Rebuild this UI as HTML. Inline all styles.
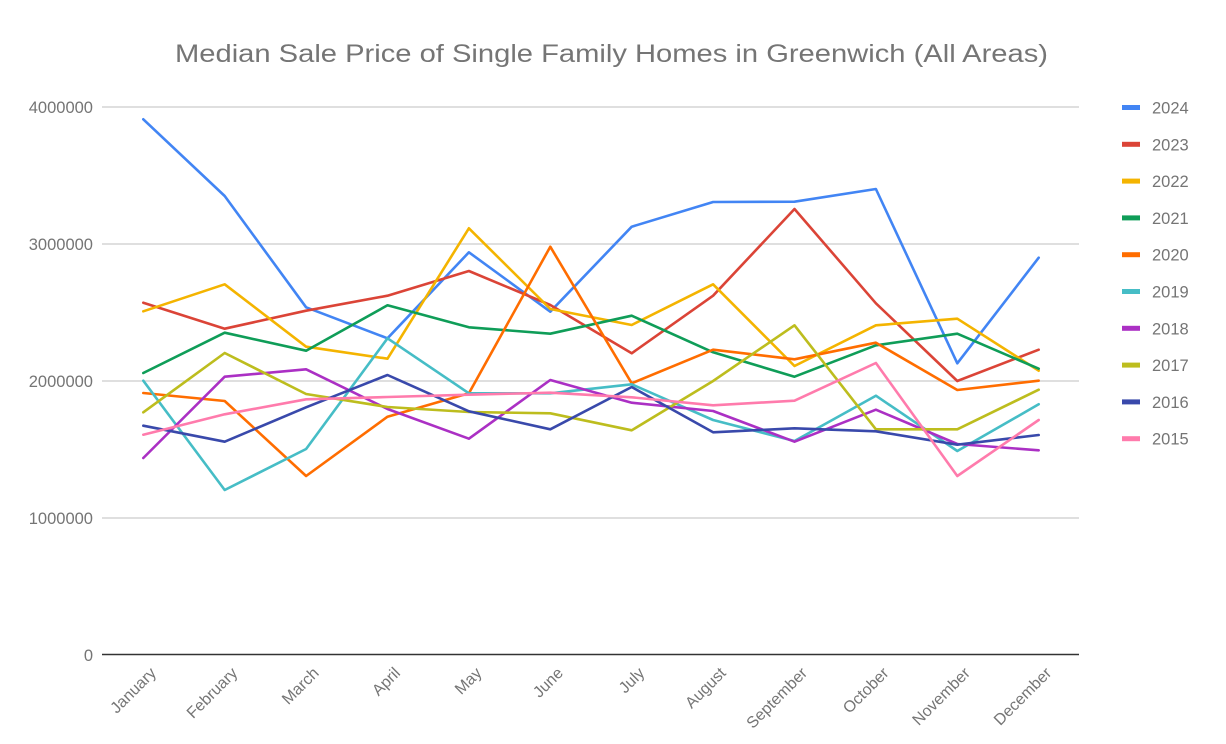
<!DOCTYPE html>
<html><head><meta charset="utf-8"><style>
html,body{margin:0;padding:0;background:#fff;}
svg{display:block;}
text{font-family:"Liberation Sans",Arial,sans-serif;fill:#757575;}
</style></head><body>
<svg width="1226" height="744" viewBox="0 0 1226 744" xmlns="http://www.w3.org/2000/svg">
<rect width="1226" height="744" fill="#fff"/>
<text x="611.5" y="62" font-size="25" text-anchor="middle" textLength="873" lengthAdjust="spacingAndGlyphs">Median Sale Price of Single Family Homes in Greenwich (All Areas)</text>
<g stroke="#cccccc" stroke-width="1.3">
<line x1="102" y1="107" x2="1079" y2="107"/>
<line x1="102" y1="244" x2="1079" y2="244"/>
<line x1="102" y1="381" x2="1079" y2="381"/>
<line x1="102" y1="518" x2="1079" y2="518"/>
</g>
<g font-size="16.5" text-anchor="end">
<text x="93" y="113">4000000</text>
<text x="93" y="250">3000000</text>
<text x="93" y="387">2000000</text>
<text x="93" y="524">1000000</text>
<text x="93" y="661">0</text>
</g>
<g fill="none" stroke-width="2.6" stroke-linejoin="round" stroke-linecap="round">
<polyline stroke="#4285F4" points="143.3,119.3 224.7,196 306.1,307.3 387.5,338.3 468.9,252.3 550.3,311.7 631.7,226.7 713.1,202 794.5,201.7 875.9,189 957.3,363.3 1038.7,257.7"/>
<polyline stroke="#DB4437" points="143.3,302.7 224.7,328.7 306.1,310.7 387.5,295.7 468.9,271 550.3,305 631.7,353.3 713.1,295.7 794.5,209 875.9,303.3 957.3,381 1038.7,349.7"/>
<polyline stroke="#F4B400" points="143.3,311.3 224.7,284.3 306.1,346.7 387.5,358.7 468.9,228.3 550.3,309 631.7,325 713.1,284.3 794.5,366 875.9,325.3 957.3,318.7 1038.7,370.7"/>
<polyline stroke="#0F9D58" points="143.3,373 224.7,332.7 306.1,350.7 387.5,305.3 468.9,327.3 550.3,333.7 631.7,315.7 713.1,352.3 794.5,376.7 875.9,345.3 957.3,333.7 1038.7,368.7"/>
<polyline stroke="#FF6D00" points="143.3,393 224.7,401 306.1,476 387.5,416.7 468.9,393.3 550.3,246.7 631.7,383.3 713.1,349.7 794.5,359.3 875.9,342.7 957.3,390 1038.7,380.7"/>
<polyline stroke="#46BDC6" points="143.3,380.7 224.7,490 306.1,449 387.5,338.3 468.9,393.3 550.3,393.3 631.7,384.3 713.1,420 794.5,441 875.9,395.7 957.3,451 1038.7,404.3"/>
<polyline stroke="#AB30C4" points="143.3,458 224.7,376.7 306.1,369.3 387.5,409 468.9,438.7 550.3,380 631.7,402.7 713.1,411 794.5,441.7 875.9,409.7 957.3,444 1038.7,450.3"/>
<polyline stroke="#BDBD1E" points="143.3,412.3 224.7,353 306.1,394 387.5,407 468.9,412 550.3,413.3 631.7,430.3 713.1,381 794.5,325.3 875.9,429.3 957.3,429.3 1038.7,389.7"/>
<polyline stroke="#3949AB" points="143.3,425.7 224.7,441.7 306.1,407.3 387.5,375 468.9,411.3 550.3,429.3 631.7,387 713.1,432.3 794.5,428.3 875.9,431.3 957.3,444.7 1038.7,435"/>
<polyline stroke="#FF7BAC" points="143.3,434.7 224.7,414.3 306.1,399.3 387.5,397 468.9,394.7 550.3,392.7 631.7,397.3 713.1,405.3 794.5,400.7 875.9,363 957.3,476 1038.7,420"/>
</g>
<line x1="102" y1="654.5" x2="1079" y2="654.5" stroke="#333" stroke-width="1.6"/>
<g font-size="16" text-anchor="end">
<text transform="translate(157,674) rotate(-45)">January</text>
<text transform="translate(238.4,674) rotate(-45)">February</text>
<text transform="translate(319.8,674) rotate(-45)">March</text>
<text transform="translate(401.2,674) rotate(-45)">April</text>
<text transform="translate(482.6,674) rotate(-45)">May</text>
<text transform="translate(564,674) rotate(-45)">June</text>
<text transform="translate(645.4,674) rotate(-45)">July</text>
<text transform="translate(726.8,674) rotate(-45)">August</text>
<text transform="translate(808.2,674) rotate(-45)">September</text>
<text transform="translate(889.6,674) rotate(-45)">October</text>
<text transform="translate(971,674) rotate(-45)">November</text>
<text transform="translate(1052.4,674) rotate(-45)">December</text>
</g>
<g>
<rect x="1122" y="105" width="18" height="5" fill="#4285F4"/>
<rect x="1122" y="141.8" width="18" height="5" fill="#DB4437"/>
<rect x="1122" y="178.6" width="18" height="5" fill="#F4B400"/>
<rect x="1122" y="215.4" width="18" height="5" fill="#0F9D58"/>
<rect x="1122" y="252.2" width="18" height="5" fill="#FF6D00"/>
<rect x="1122" y="289" width="18" height="5" fill="#46BDC6"/>
<rect x="1122" y="325.8" width="18" height="5" fill="#AB30C4"/>
<rect x="1122" y="362.6" width="18" height="5" fill="#BDBD1E"/>
<rect x="1122" y="399.4" width="18" height="5" fill="#3949AB"/>
<rect x="1122" y="436.2" width="18" height="5" fill="#FF7BAC"/>
</g>
<g font-size="16.5">
<text x="1152" y="113.5">2024</text>
<text x="1152" y="150.3">2023</text>
<text x="1152" y="187.1">2022</text>
<text x="1152" y="223.9">2021</text>
<text x="1152" y="260.7">2020</text>
<text x="1152" y="297.5">2019</text>
<text x="1152" y="334.3">2018</text>
<text x="1152" y="371.1">2017</text>
<text x="1152" y="407.9">2016</text>
<text x="1152" y="444.7">2015</text>
</g>
</svg>
</body></html>
